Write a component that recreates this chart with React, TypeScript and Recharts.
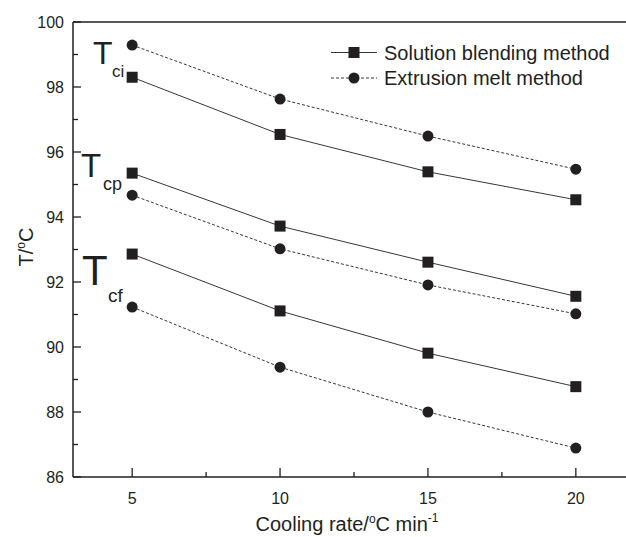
import React from "react";
import { LineChart, Line, XAxis, YAxis, ReferenceLine, Legend } from "recharts";

const coolingRate = [5, 10, 15, 20];
const tciSolution = [98.3, 96.54, 95.39, 94.53];
const tciExtrusion = [99.29, 97.63, 96.49, 95.47];
const tcpSolution = [95.35, 93.72, 92.61, 91.56];
const tcpExtrusion = [94.67, 93.02, 91.91, 91.02];
const tcfSolution = [92.86, 91.11, 89.81, 88.78];
const tcfExtrusion = [91.23, 89.38, 88.0, 86.89];

const yTicks = [86, 87, 88, 89, 90, 91, 92, 93, 94, 95, 96, 97, 98, 99, 100];
const xTicks = [5, 7.5, 10, 12.5, 15, 17.5, 20];
const majorXTicks = [5, 10, 15, 20];
const legendOrder = ["tciS", "tciE"];

const data = coolingRate.map((r, i) => ({
  rate: r,
  tciS: tciSolution[i],
  tciE: tciExtrusion[i],
  tcpS: tcpSolution[i],
  tcpE: tcpExtrusion[i],
  tcfS: tcfSolution[i],
  tcfE: tcfExtrusion[i],
}));

const INK = "#231f20";
const LINE = "#3a3637";
const FONT = "'Liberation Sans', Arial, sans-serif";

const SquareDot = (props: any) => {
  const { cx, cy } = props;
  if (cx == null || cy == null) return null;
  return <rect x={cx - 5.5} y={cy - 5.5} width={11} height={11} fill={INK} />;
};
const CircleDot = (props: any) => {
  const { cx, cy } = props;
  if (cx == null || cy == null) return null;
  return <circle cx={cx} cy={cy} r={5.5} fill={INK} />;
};

const YTick = (props: any) => {
  const { x, y, payload } = props;
  const major = payload.value % 2 === 0;
  return (
    <g>
      <line x1={x} x2={x + (major ? 8 : 5)} y1={y} y2={y} stroke={INK} strokeWidth={1.3} />
      {major && (
        <text x={x - 9} y={y + 6} textAnchor="end" fontSize={16} fill={INK} fontFamily={FONT}>
          {payload.value}
        </text>
      )}
    </g>
  );
};

const XTick = (props: any) => {
  const { x, y, payload } = props;
  const major = majorXTicks.includes(payload.value);
  return (
    <g>
      <line x1={x} x2={x} y1={y} y2={y - (major ? 9 : 5)} stroke={INK} strokeWidth={1.3} />
      {major && (
        <text x={x} y={y + 27} textAnchor="middle" fontSize={16} fill={INK} fontFamily={FONT}>
          {payload.value}
        </text>
      )}
    </g>
  );
};

const LegendContent = (props: any) => {
  const items = (props.payload || [])
    .filter((p: any) => legendOrder.includes(p.dataKey))
    .sort((a: any, b: any) => legendOrder.indexOf(a.dataKey) - legendOrder.indexOf(b.dataKey));
  return (
    <svg width={300} height={60} style={{ display: "block" }}>
      {items.map((it: any, i: number) => {
        const cy = 14.5 + i * 25.5;
        const dashed = it.dataKey === "tciE";
        return (
          <g key={i}>
            <line
              x1={3}
              x2={49}
              y1={cy}
              y2={cy}
              stroke={LINE}
              strokeWidth={1}
              strokeDasharray={dashed ? "3 2" : undefined}
            />
            {dashed ? (
              <circle cx={26} cy={cy} r={5.5} fill={INK} />
            ) : (
              <rect x={20.5} y={cy - 5.5} width={11} height={11} fill={INK} />
            )}
            <text x={56} y={cy + 7} fontSize={20} fill={INK} fontFamily={FONT}>
              {it.value}
            </text>
          </g>
        );
      })}
    </svg>
  );
};

export default function App() {
  return (
    <div style={{ position: "absolute", left: 0, top: 0, width: 626, height: 537, overflow: "hidden", background: "#fff" }}>
      <LineChart
        width={640}
        height={537}
        data={data}
        margin={{ top: 22, right: 5, bottom: 0, left: 0 }}
      >
        <XAxis
          dataKey="rate"
          type="number"
          domain={[3, 22]}
          ticks={xTicks}
          interval={0}
          allowDataOverflow
          height={60}
          tickSize={0}
          tickMargin={0}
          tickLine={false}
          axisLine={{ stroke: INK, strokeWidth: 1.5 }}
          tick={<XTick />}
        />
        <YAxis
          type="number"
          domain={[86, 100]}
          ticks={yTicks}
          interval={0}
          allowDataOverflow
          width={73}
          tickSize={0}
          tickMargin={0}
          tickLine={false}
          axisLine={{ stroke: INK, strokeWidth: 1.5 }}
          tick={<YTick />}
        />
        <ReferenceLine y={100} stroke={INK} strokeWidth={1.5} ifOverflow="visible" />
        <Legend
          layout="horizontal"
          verticalAlign="middle"
          align="center"
          wrapperStyle={{ left: 328, top: 38, width: 300, height: 60 }}
          content={<LegendContent />}
        />
        <Line dataKey="tciS" name="Solution blending method" stroke={LINE} strokeWidth={1} dot={<SquareDot />} isAnimationActive={false} />
        <Line dataKey="tciE" name="Extrusion melt method" stroke={LINE} strokeWidth={1} strokeDasharray="3 2" dot={<CircleDot />} isAnimationActive={false} />
        <Line dataKey="tcpS" name="tcpS" legendType="none" stroke={LINE} strokeWidth={1} dot={<SquareDot />} isAnimationActive={false} />
        <Line dataKey="tcpE" name="tcpE" legendType="none" stroke={LINE} strokeWidth={1} strokeDasharray="3 2" dot={<CircleDot />} isAnimationActive={false} />
        <Line dataKey="tcfS" name="tcfS" legendType="none" stroke={LINE} strokeWidth={1} dot={<SquareDot />} isAnimationActive={false} />
        <Line dataKey="tcfE" name="tcfE" legendType="none" stroke={LINE} strokeWidth={1} strokeDasharray="3 2" dot={<CircleDot />} isAnimationActive={false} />

        <g fontFamily={FONT} fill={INK}>
          <text x={93} y={64} fontSize={32} fill={INK}>T</text>
          <text x={112} y={77} fontSize={17} fill={INK}>ci</text>
          <text x={81} y={177} fontSize={33} fill={INK}>T</text>
          <text x={103} y={190} fontSize={18} fill={INK}>cp</text>
          <text x={82} y={285} fontSize={42} fill={INK}>T</text>
          <text x={108} y={302} fontSize={19} fill={INK}>cf</text>
          <text transform="translate(33,247) rotate(-90)" textAnchor="middle" fontSize={20} fill={INK}>
            T/<tspan fontSize={12} dy={-8}>o</tspan><tspan dy={8}>C</tspan>
          </text>
          <text x={347} y={531} textAnchor="middle" fontSize={20} fill={INK}>
            Cooling rate/<tspan fontSize={12} dy={-8}>o</tspan><tspan dy={8}>C min</tspan><tspan fontSize={12} dy={-9}>-1</tspan>
          </text>
        </g>
      </LineChart>
    </div>
  );
}
